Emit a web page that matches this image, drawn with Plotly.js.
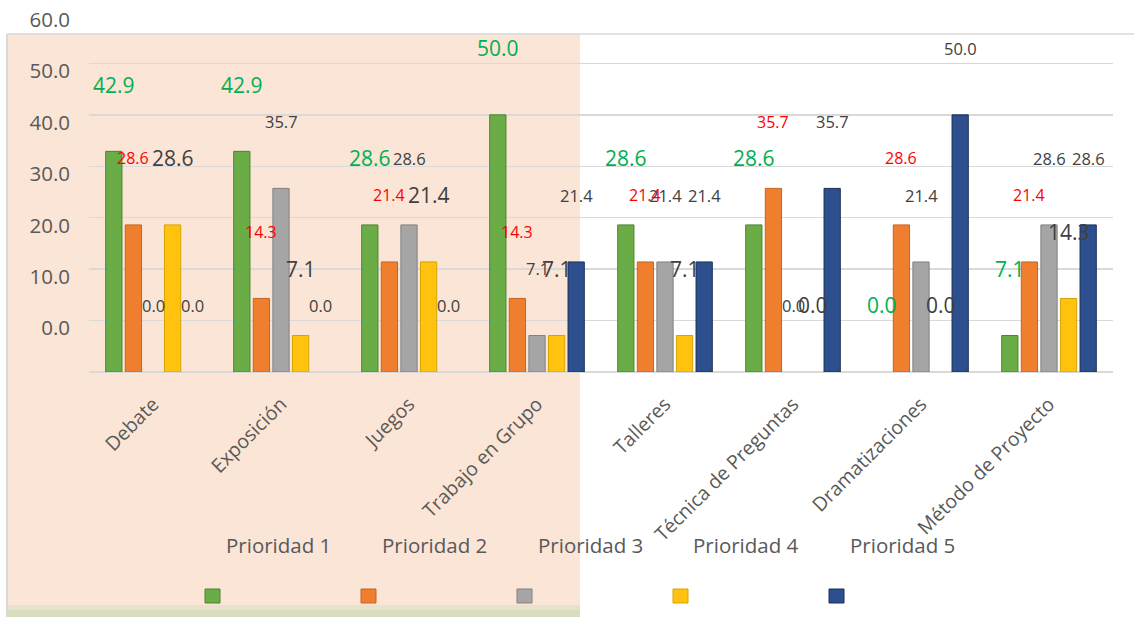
<!DOCTYPE html>
<html><head><meta charset="utf-8">
<script src="https://cdn.plot.ly/plotly-3.0.1.min.js"></script>
<style>html,body{margin:0;padding:0;background:#fff}#chart{width:1134px;height:617px}</style>
</head><body><div id="chart"></div>
<script>
const categories = ["Debate","Exposición","Juegos","Trabajo en Grupo","Talleres","Técnica de Preguntas","Dramatizaciones","Método de Proyecto"];
const seriesNames = ["Prioridad 1","Prioridad 2","Prioridad 3","Prioridad 4","Prioridad 5"];
const prioridad1 = [42.9, 42.9, 28.6, 50.0, 28.6, 28.6, 0.0, 7.1];
const prioridad2 = [28.6, 14.3, 21.4, 14.3, 21.4, 35.7, 28.6, 21.4];
const prioridad3 = [0.0, 35.7, 28.6, 7.1, 21.4, 0.0, 21.4, 28.6];
const prioridad4 = [28.6, 7.1, 21.4, 7.1, 7.1, 0.0, 0.0, 14.3];
const prioridad5 = [0.0, 0.0, 0.0, 21.4, 21.4, 35.7, 50.0, 28.6];
const yTickValues = [0, 10, 20, 30, 40, 50, 60];
const yTickLabels = ["0.0", "10.0", "20.0", "30.0", "40.0", "50.0", "60.0"];

const series = [prioridad1, prioridad2, prioridad3, prioridad4, prioridad5];
const barColors = ["#6AAC45", "#EF7F2F", "#A5A5A5", "#FFC20E", "#2D4F8E"];
const lineColors = ["#4C8530", "#C7641E", "#828282", "#D9A200", "#1B2F56"];
const labelColors = ["#00B050", "#FF0000", "#404040", "#404040", "#404040"];
const labelSizes = [21, 16, 16.5, 21, 16.5];
const labelLift = 13;      // data labels drawn above the bar end
const tickLabelShift = 8.5; // value-axis labels sit off their gridlines
const bargap = 0.235;
const FONT = "Open Sans, Noto Sans, sans-serif";

// plot area in pixels (used only for decoration placement in paper coordinates)
const L = 89, T = 12, W = 1024, H = 360;
const px = x => (x - L) / W;
const py = y => (T + H - y) / H;

const traces = series.map((vals, i) => ({
  type: "bar",
  name: seriesNames[i],
  x: categories,
  y: vals,
  marker: { color: barColors[i], line: { color: lineColors[i], width: vals.map(v => v > 0 ? 1 : 0) } },
  showlegend: false,
  hoverinfo: "x+y+name"
}));

const slot = (1 - bargap) / series.length;
const annotations = [];
series.forEach((vals, si) => {
  vals.forEach((v, ci) => {
    annotations.push({
      xref: "x", yref: "y",
      x: ci + (si - (series.length - 1) / 2) * slot,
      y: v + labelLift,
      text: v.toFixed(1),
      showarrow: false,
      xanchor: "center", yanchor: "middle",
      font: { family: FONT, size: labelSizes[si], color: labelColors[si] }
    });
  });
});

const shapes = [
  { type: "rect", xref: "paper", yref: "paper", layer: "below",
    x0: px(7), x1: px(580), y0: py(610), y1: py(34),
    fillcolor: "#FBE5D6", line: { width: 0 } },
  { type: "rect", xref: "paper", yref: "paper", layer: "below",
    x0: px(7), x1: px(580), y0: py(617), y1: py(610),
    fillcolor: "#D9DDBF", line: { width: 0 } },
  { type: "rect", xref: "paper", yref: "paper", layer: "below",
    x0: px(7), x1: px(580), y0: py(610), y1: py(605),
    fillcolor: "#E8E1CB", line: { width: 0 } },
  { type: "line", xref: "paper", yref: "paper", layer: "below",
    x0: px(7), x1: px(1136), y0: py(34), y1: py(34),
    line: { color: "#D9D9D9", width: 1.5 } },
  { type: "line", xref: "paper", yref: "paper", layer: "below",
    x0: px(7), x1: px(7), y0: py(34), y1: py(617),
    line: { color: "#D9D9D9", width: 2 } }
];
// legend (names above, swatches below, as in the reference)
seriesNames.forEach((n, i) => {
  annotations.push({
    xref: "paper", yref: "paper",
    x: px(278 + 156 * i), y: py(545),
    text: n, showarrow: false, xanchor: "center", yanchor: "middle",
    font: { family: FONT, size: 20.5, color: "#595959" }
  });
  shapes.push({
    type: "rect", xref: "paper", yref: "paper",
    x0: px(205 + 156 * i), x1: px(220 + 156 * i),
    y0: py(603), y1: py(589),
    fillcolor: barColors[i], line: { color: lineColors[i], width: 1 }
  });
});

const layout = {
  width: 1134, height: 617,
  margin: { l: L, r: 1134 - L - W, t: T, b: 617 - T - H, pad: 0 },
  paper_bgcolor: "#FFFFFF",
  plot_bgcolor: "rgba(0,0,0,0)",
  barmode: "group",
  bargap: bargap,
  bargroupgap: 0.17,
  font: { family: FONT, color: "#595959" },
  xaxis: {
    type: "category",
    tickangle: -45,
    tickfont: { family: FONT, size: 19.5, color: "#595959" },
    showgrid: false, showline: false, ticks: "", zeroline: false,
    ticklabelstandoff: 16
  },
  yaxis: {
    range: [0, 70],
    tickvals: yTickValues,
    showticklabels: false,
    showgrid: true, gridcolor: "#D9D9D9", gridwidth: 1.3,
    zeroline: true, zerolinecolor: "#D9D9D9", zerolinewidth: 1.3,
    showline: false, ticks: ""
  },
  yaxis2: {
    overlaying: "y", side: "left", anchor: "x",
    range: [0, 70],
    tickvals: yTickValues.map(v => v + tickLabelShift),
    ticktext: yTickLabels,
    showgrid: false, zeroline: false, showline: false, ticks: "",
    tickfont: { family: FONT, size: 20.5, color: "#595959" },
    ticklabelstandoff: 18
  },
  showlegend: false,
  annotations: annotations,
  shapes: shapes
};

// an invisible trace to attach the shifted value-label axis
traces.push({ type: "scatter", x: [categories[0]], y: [0], yaxis: "y2", mode: "markers",
  marker: { opacity: 0 }, showlegend: false, hoverinfo: "skip" });

Plotly.newPlot("chart", traces, layout, { displayModeBar: false, staticPlot: true });
</script>
</body></html>
